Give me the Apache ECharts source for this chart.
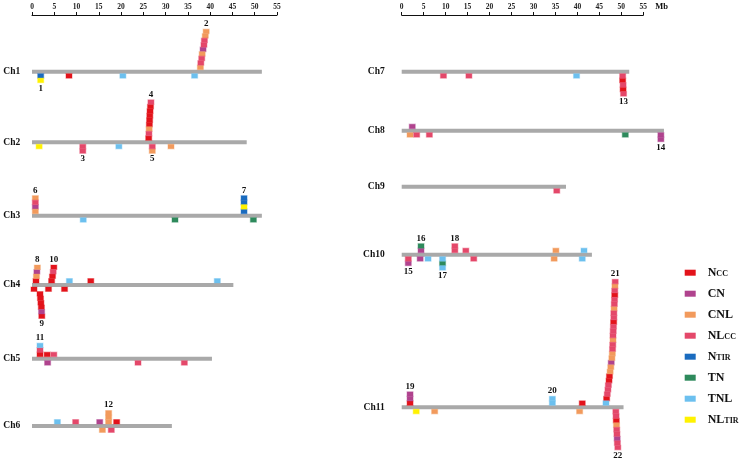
<!DOCTYPE html>
<html>
<head>
<meta charset="utf-8">
<script src="https://cdn.jsdelivr.net/npm/echarts@6/dist/echarts.min.js"></script>
<style>html,body{margin:0;padding:0;background:#fff}#container{width:743px;height:460px}</style>
</head>
<body>
<div id="container"></div>
<script>
var classes = ['Ncc', 'CN', 'CNL', 'NLcc', 'NTIR', 'TN', 'TNL', 'NLTIR'];
var legendLabels = ['N{s|CC}', 'CN', 'CNL', 'NL{s|CC}', 'N{s|TIR}', 'TN', 'TNL', 'NL{s|TIR}'];

var chromNames = ['Ch1', 'Ch2', 'Ch3', 'Ch4', 'Ch5', 'Ch6', 'Ch7', 'Ch8', 'Ch9', 'Ch10', 'Ch11'];
var chromLengths = [51.6, 48.2, 51.6, 45.2, 40.4, 31.4, 51.8, 59.7, 37.4, 43.3, 50.5];
// track = row on the vertical value axis
var chromTracks = [56.7, 127.3, 200.7, 270, 343.7, 411, 56.7, 115.7, 171.7, 239.7, 392.3];
var chromPanels = [0, 0, 0, 0, 0, 0, 1, 1, 1, 1, 1];

// [chromosome, position Mb, class, stack level (+ above / - below)]
var genes = [
	['Ch1', 1.95, 'NTIR', -1], ['Ch1', 1.95, 'NLTIR', -2], ['Ch1', 8.3, 'Ncc', -1],
	['Ch1', 20.4, 'TNL', -1], ['Ch1', 36.5, 'TNL', -1],
	['Ch1', 37.8, 'CNL', 1], ['Ch1', 37.9, 'NLcc', 2], ['Ch1', 38.1, 'NLcc', 3], ['Ch1', 38.2, 'CNL', 4],
	['Ch1', 38.4, 'CN', 5], ['Ch1', 38.6, 'NLcc', 6], ['Ch1', 38.7, 'NLcc', 7], ['Ch1', 38.9, 'CNL', 8], ['Ch1', 39.1, 'CNL', 9],

	['Ch2', 1.6, 'NLTIR', -1], ['Ch2', 11.4, 'NLcc', -1], ['Ch2', 11.4, 'NLcc', -2], ['Ch2', 19.5, 'TNL', -1],
	['Ch2', 26.2, 'Ncc', 1], ['Ch2', 26.25, 'NLcc', 2], ['Ch2', 26.3, 'CNL', 3], ['Ch2', 26.35, 'Ncc', 4],
	['Ch2', 26.4, 'Ncc', 5], ['Ch2', 26.45, 'Ncc', 6], ['Ch2', 26.5, 'Ncc', 7], ['Ch2', 26.6, 'Ncc', 8], ['Ch2', 26.7, 'NLcc', 9],
	['Ch2', 27.0, 'NLcc', -1], ['Ch2', 27.0, 'CNL', -2], ['Ch2', 31.2, 'CNL', -1],

	['Ch3', 0.75, 'CNL', 1], ['Ch3', 0.75, 'CN', 2], ['Ch3', 0.75, 'NLcc', 3], ['Ch3', 0.75, 'CNL', 4],
	['Ch3', 11.5, 'TNL', -1], ['Ch3', 32.1, 'TN', -1],
	['Ch3', 47.6, 'NTIR', 1], ['Ch3', 47.6, 'NLTIR', 2], ['Ch3', 47.6, 'NTIR', 3], ['Ch3', 47.6, 'NTIR', 4],
	['Ch3', 49.7, 'TN', -1],

	['Ch4', 0.9, 'Ncc', 1], ['Ch4', 1.0, 'CNL', 2], ['Ch4', 1.1, 'CN', 3], ['Ch4', 1.2, 'CNL', 4],
	['Ch4', 4.4, 'Ncc', 1], ['Ch4', 4.6, 'Ncc', 2], ['Ch4', 4.75, 'NLcc', 3], ['Ch4', 4.9, 'Ncc', 4],
	['Ch4', 8.4, 'TNL', 1], ['Ch4', 13.2, 'Ncc', 1], ['Ch4', 41.6, 'TNL', 1],
	['Ch4', 0.45, 'Ncc', -1], ['Ch4', 3.7, 'Ncc', -1], ['Ch4', 7.3, 'Ncc', -1],
	['Ch4', 1.8, 'Ncc', -2], ['Ch4', 1.9, 'Ncc', -3], ['Ch4', 2.0, 'Ncc', -4], ['Ch4', 2.1, 'Ncc', -5],
	['Ch4', 2.15, 'CN', -6], ['Ch4', 2.2, 'Ncc', -7],

	['Ch5', 1.8, 'Ncc', 1], ['Ch5', 1.8, 'NLcc', 2], ['Ch5', 1.8, 'TNL', 3],
	['Ch5', 3.4, 'Ncc', 1], ['Ch5', 4.9, 'NLcc', 1], ['Ch5', 3.5, 'CN', -1],
	['Ch5', 23.8, 'NLcc', -1], ['Ch5', 34.2, 'NLcc', -1],

	['Ch6', 5.7, 'TNL', 1], ['Ch6', 9.8, 'NLcc', 1], ['Ch6', 15.2, 'CN', 1],
	['Ch6', 17.2, 'CNL', 1], ['Ch6', 17.2, 'CNL', 2], ['Ch6', 17.2, 'CNL', 3],
	['Ch6', 19.0, 'Ncc', 1], ['Ch6', 15.8, 'CNL', -1], ['Ch6', 17.8, 'NLcc', -1],

	['Ch7', 9.5, 'NLcc', -1], ['Ch7', 15.3, 'NLcc', -1], ['Ch7', 39.8, 'TNL', -1],
	['Ch7', 50.3, 'NLcc', -1], ['Ch7', 50.3, 'Ncc', -2], ['Ch7', 50.4, 'NLcc', -3], ['Ch7', 50.4, 'Ncc', -4], ['Ch7', 50.5, 'NLcc', -5],

	['Ch8', 2.4, 'CN', 1], ['Ch8', 1.9, 'CNL', -1], ['Ch8', 3.4, 'NLcc', -1], ['Ch8', 6.3, 'NLcc', -1],
	['Ch8', 50.9, 'TN', -1], ['Ch8', 59.0, 'CN', -1], ['Ch8', 59.0, 'CN', -2],

	['Ch9', 35.3, 'NLcc', -1],

	['Ch10', 1.5, 'NLcc', -1], ['Ch10', 1.5, 'CN', -2],
	['Ch10', 4.4, 'CN', 1], ['Ch10', 4.4, 'TN', 2], ['Ch10', 4.2, 'CN', -1], ['Ch10', 6.0, 'TNL', -1],
	['Ch10', 9.3, 'TNL', -1], ['Ch10', 9.3, 'TN', -2], ['Ch10', 9.3, 'TNL', -3],
	['Ch10', 12.1, 'NLcc', 1], ['Ch10', 12.1, 'NLcc', 2], ['Ch10', 14.6, 'NLcc', 1], ['Ch10', 16.4, 'NLcc', -1],
	['Ch10', 35.1, 'CNL', 1], ['Ch10', 34.7, 'CNL', -1], ['Ch10', 41.5, 'TNL', 1], ['Ch10', 41.1, 'TNL', -1],

	['Ch11', 1.9, 'Ncc', 1], ['Ch11', 1.9, 'CN', 2], ['Ch11', 1.9, 'CN', 3],
	['Ch11', 3.3, 'NLTIR', -1], ['Ch11', 7.5, 'CNL', -1],
	['Ch11', 34.3, 'TNL', 1], ['Ch11', 34.3, 'TNL', 2], ['Ch11', 41.1, 'Ncc', 1], ['Ch11', 40.5, 'CNL', -1],
	['Ch11', 46.5, 'TNL', 1], ['Ch11', 46.65, 'Ncc', 2], ['Ch11', 46.8, 'NLcc', 3], ['Ch11', 46.95, 'NLcc', 4],
	['Ch11', 47.05, 'NLcc', 5], ['Ch11', 47.2, 'Ncc', 6], ['Ch11', 47.3, 'Ncc', 7], ['Ch11', 47.45, 'CNL', 8],
	['Ch11', 47.6, 'CNL', 9], ['Ch11', 47.7, 'CN', 10], ['Ch11', 47.85, 'CNL', 11], ['Ch11', 47.95, 'CNL', 12],
	['Ch11', 48.0, 'NLcc', 13], ['Ch11', 48.05, 'NLcc', 14], ['Ch11', 48.1, 'CNL', 15], ['Ch11', 48.1, 'NLcc', 16],
	['Ch11', 48.15, 'NLcc', 17], ['Ch11', 48.2, 'NLcc', 18], ['Ch11', 48.25, 'Ncc', 19], ['Ch11', 48.3, 'NLcc', 20],
	['Ch11', 48.3, 'NLcc', 21], ['Ch11', 48.35, 'CNL', 22], ['Ch11', 48.4, 'NLcc', 23], ['Ch11', 48.45, 'NLcc', 24],
	['Ch11', 48.5, 'Ncc', 25], ['Ch11', 48.5, 'NLcc', 26], ['Ch11', 48.55, 'CNL', 27], ['Ch11', 48.6, 'NLcc', 28],
	['Ch11', 48.75, 'NLcc', -1], ['Ch11', 48.8, 'NLcc', -2], ['Ch11', 48.85, 'Ncc', -3], ['Ch11', 48.9, 'CNL', -4],
	['Ch11', 48.95, 'NLcc', -5], ['Ch11', 49.0, 'NLcc', -6], ['Ch11', 49.05, 'CN', -7], ['Ch11', 49.1, 'NLcc', -8],
	['Ch11', 49.2, 'NLcc', -9]
];

// [chromosome, cluster label, position Mb, outermost stack level]
var clusters = [
	['Ch1', '1', 1.95, -2], ['Ch1', '2', 39.1, 9], ['Ch2', '3', 11.4, -2], ['Ch2', '4', 26.7, 9],
	['Ch2', '5', 27.0, -2], ['Ch3', '6', 0.75, 4], ['Ch3', '7', 47.6, 4], ['Ch4', '8', 1.2, 4],
	['Ch4', '9', 2.2, -7], ['Ch4', '10', 4.9, 4], ['Ch5', '11', 1.8, 3], ['Ch6', '12', 17.2, 3],
	['Ch7', '13', 50.5, -5], ['Ch8', '14', 59.0, -2], ['Ch10', '15', 1.5, -2], ['Ch10', '16', 4.4, 2],
	['Ch10', '17', 9.3, -3], ['Ch10', '18', 12.1, 2], ['Ch11', '19', 1.9, 3], ['Ch11', '20', 34.3, 2],
	['Ch11', '21', 48.6, 28], ['Ch11', '22', 49.2, -9]
];

var colorList = ['#e3131b', '#b0438e', '#f29a5c', '#e4486a', '#1a6bbf', '#2e8a5c', '#6cc0ef', '#fff200'];
var serif = '"Liberation Serif", "DejaVu Serif", serif';
var BOX_W = 6, BOX_H = 4.5, BAR_H = 4;
var labelAlign = ['left', 'right'];
var labelOffset = [-28.7, -17];

var dom = document.getElementById('container');
var myChart = echarts.init(dom);

function boxTop(y, level) {
	return level > 0 ? y - BAR_H / 2 - level * BOX_H : y + BAR_H / 2 + (-level - 1) * BOX_H;
}

function renderChrom(params, api) {
	var start = api.coord([0, api.value(1)]);
	var end = api.coord([api.value(0), api.value(1)]);
	var panel = api.value(3);
	return {
		type: 'group',
		children: [{
			type: 'rect',
			shape: {x: start[0], y: start[1] - BAR_H / 2, width: end[0] - start[0], height: BAR_H},
			style: {fill: '#a9a9a9'}
		}, {
			type: 'text',
			x: start[0] + labelOffset[panel],
			y: start[1],
			style: {
				text: chromNames[api.value(2)],
				align: labelAlign[panel],
				verticalAlign: 'middle',
				font: 'bold 9.5px ' + serif,
				fill: '#111'
			}
		}]
	};
}

function renderGene(params, api) {
	var p = api.coord([api.value(0), api.value(1)]);
	var color = api.visual('color');
	return {
		type: 'rect',
		shape: {x: p[0] - BOX_W / 2, y: boxTop(p[1], api.value(2)), width: BOX_W, height: BOX_H},
		style: {fill: color, stroke: color, strokeOpacity: 0.35, lineWidth: 1.2}
	};
}

function renderCluster(params, api) {
	var p = api.coord([api.value(0), api.value(1)]);
	var level = api.value(2);
	var y = level > 0 ? boxTop(p[1], level) - 1 : boxTop(p[1], level) + BOX_H + 1;
	return {
		type: 'text',
		x: p[0],
		y: y,
		style: {
			text: clusters[api.value(3)][1],
			align: 'center',
			verticalAlign: level > 0 ? 'bottom' : 'top',
			font: 'bold 9px ' + serif,
			fill: '#111'
		}
	};
}

var series = [];
[0, 1].forEach(function (panel) {
	var chromData = [];
	chromNames.forEach(function (name, i) {
		if (chromPanels[i] === panel) chromData.push([chromLengths[i], chromTracks[i], i, panel]);
	});
	series.push({
		type: 'custom',
		name: 'chrom' + panel,
		xAxisIndex: panel,
		yAxisIndex: panel,
		clip: false,
		silent: true,
		renderItem: renderChrom,
		data: chromData
	});
	classes.forEach(function (cls, ci) {
		var data = [];
		genes.forEach(function (g) {
			var i = chromNames.indexOf(g[0]);
			if (chromPanels[i] === panel && g[2] === cls) data.push([g[1], chromTracks[i], g[3]]);
		});
		series.push({
			type: 'custom',
			name: cls,
			xAxisIndex: panel,
			yAxisIndex: panel,
			clip: false,
			silent: true,
			itemStyle: {color: colorList[ci]},
			renderItem: renderGene,
			data: data
		});
	});
	var labelData = [];
	clusters.forEach(function (c, k) {
		var i = chromNames.indexOf(c[0]);
		if (chromPanels[i] === panel) labelData.push([c[2], chromTracks[i], c[3], k]);
	});
	series.push({
		type: 'custom',
		name: 'clusters' + panel,
		xAxisIndex: panel,
		yAxisIndex: panel,
		clip: false,
		silent: true,
		renderItem: renderCluster,
		data: labelData
	});
});

function makeXAxis(gridIndex, name) {
	return {
		type: 'value',
		gridIndex: gridIndex,
		position: 'top',
		min: 0,
		max: 55,
		interval: 5,
		name: name,
		nameLocation: 'end',
		nameGap: 12,
		nameTextStyle: {fontFamily: serif, fontWeight: 'bold', fontSize: 8.5, color: '#111', verticalAlign: 'bottom', padding: [0, 0, 4, 0]},
		axisLine: {lineStyle: {color: '#111', width: 1}},
		axisTick: {length: 3, lineStyle: {color: '#111'}},
		axisLabel: {fontFamily: serif, fontWeight: 'bold', fontSize: 7.5, color: '#222', margin: 4},
		splitLine: {show: false}
	};
}

function makeYAxis(gridIndex) {
	return {type: 'value', gridIndex: gridIndex, inverse: true, min: 0, max: 445, show: false};
}

option = {
	animation: false,
	backgroundColor: '#fff',
	legend: {
		data: classes,
		orient: 'vertical',
		left: 684.7,
		top: 265.7,
		padding: 0,
		icon: 'rect',
		itemWidth: 11,
		itemHeight: 6,
		itemGap: 7,
		selectedMode: false,
		formatter: function (name) {
			return legendLabels[classes.indexOf(name)];
		},
		textStyle: {
			fontFamily: serif, fontWeight: 'bold', fontSize: 12, color: '#111', lineHeight: 14, padding: [0, 0, 0, 7],
			rich: {s: {fontFamily: serif, fontWeight: 'bold', fontSize: 8, color: '#111', padding: [3, 0, 0, 0]}}
		}
	},
	grid: [
		{left: 32, top: 15, width: 245, height: 445},
		{left: 401.7, top: 15, width: 241.6, height: 445}
	],
	xAxis: [makeXAxis(0, ''), makeXAxis(1, 'Mb')],
	yAxis: [makeYAxis(0), makeYAxis(1)],
	series: series
};

myChart.setOption(option);
</script>
</body>
</html>
